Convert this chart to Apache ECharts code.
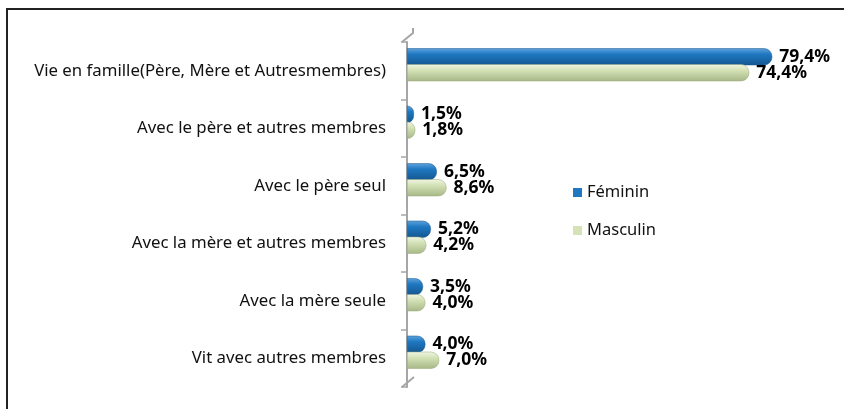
<!DOCTYPE html>
<html>
<head>
<meta charset="utf-8">
<script src="https://cdn.jsdelivr.net/npm/echarts@6/dist/echarts.min.js"></script>
<style>
  html, body { margin: 0; padding: 0; background: #fff; }
  #chart { width: 844px; height: 409px; }
</style>
</head>
<body>
<div id="chart"></div>
<script>
const categories = [
  'Vie en famille(Père, Mère et Autresmembres)',
  'Avec le père et autres membres',
  'Avec le père seul',
  'Avec la mère et autres membres',
  'Avec la mère seule',
  'Vit avec autres membres'
]
const feminin = [79.4, 1.5, 6.5, 5.2, 3.5, 4.0]
const masculin = [74.4, 1.8, 8.6, 4.2, 4.0, 7.0]

const font = 'Noto Sans'
const pct = p => p.value.toFixed(1).replace('.', ',') + '%'

const cylinder = (top, mid, bottom) => new echarts.graphic.LinearGradient(0, 0, 0, 1, [
  { offset: 0, color: top },
  { offset: 0.35, color: mid },
  { offset: 1, color: bottom }
])

const chart = echarts.init(document.getElementById('chart'))

chart.setOption({
  animation: false,
  textStyle: { fontFamily: font },
  grid: [
    { left: 407, right: 69, top: 42, bottom: 22 },
    { left: 407, right: 69, top: 36, bottom: 28 }
  ],
  xAxis: [
    { gridIndex: 0, type: 'value', min: 0, max: 80, show: false },
    { gridIndex: 1, type: 'value', min: 0, max: 80, show: false }
  ],
  yAxis: [
    {
      gridIndex: 0,
      type: 'category',
      data: categories,
      inverse: true,
      offset: 5,
      axisLine: { show: true, lineStyle: { color: '#a6a6a6', width: 2 } },
      axisTick: { show: true, inside: false, length: 6, lineStyle: { color: '#a6a6a6', width: 1.5 } },
      axisLabel: { color: '#111', fontSize: 16.8, margin: 16 }
    },
    {
      gridIndex: 1,
      type: 'category',
      data: categories,
      inverse: true,
      show: false
    }
  ],
  legend: {
    orient: 'vertical',
    left: 568,
    top: 179,
    itemWidth: 9,
    itemHeight: 9,
    itemGap: 21,
    icon: 'rect',
    textStyle: { color: '#111', fontSize: 16.5 },
    data: [
      { name: 'Féminin', itemStyle: { color: '#1f78c1', borderWidth: 0 } },
      { name: 'Masculin', itemStyle: { color: '#d4e2b6', borderWidth: 0 } }
    ]
  },
  series: [
    {
      name: 'Féminin',
      type: 'bar',
      xAxisIndex: 1,
      yAxisIndex: 1,
      data: feminin,
      barWidth: 17,
      barGap: '-6%',
      itemStyle: {
        color: cylinder('#5fa3dd', '#1f78c1', '#145690'),
        borderColor: '#16598f',
        borderWidth: 0.5,
        borderRadius: [0, 8, 8, 0]
      },
      label: {
        show: true,
        position: 'right',
        distance: 7,
        formatter: pct,
        color: '#000',
        fontWeight: 'bold',
        fontSize: 17.5
      }
    },
    {
      name: 'Masculin',
      type: 'bar',
      xAxisIndex: 1,
      yAxisIndex: 1,
      data: masculin,
      barWidth: 17,
      itemStyle: {
        color: cylinder('#f1f5e6', '#d4e2b6', '#a7b887'),
        borderColor: '#98a97a',
        borderWidth: 0.5,
        borderRadius: [0, 8, 8, 0]
      },
      label: {
        show: true,
        position: 'right',
        distance: 7,
        formatter: pct,
        color: '#000',
        fontWeight: 'bold',
        fontSize: 17.5
      }
    }
  ],
  graphic: [
    {
      type: 'rect',
      shape: { x: 7, y: 9, width: 900, height: 500 },
      style: { fill: 'none', stroke: '#222', lineWidth: 2 }
    },
    {
      type: 'polyline',
      shape: { points: [[402, 42], [413, 33], [413, 28]] },
      style: { fill: 'none', stroke: '#a6a6a6', lineWidth: 2 }
    },
    {
      type: 'line',
      shape: { x1: 402, y1: 387, x2: 414, y2: 377 },
      style: { stroke: '#a6a6a6', lineWidth: 2 }
    }
  ]
})
</script>
</body>
</html>
